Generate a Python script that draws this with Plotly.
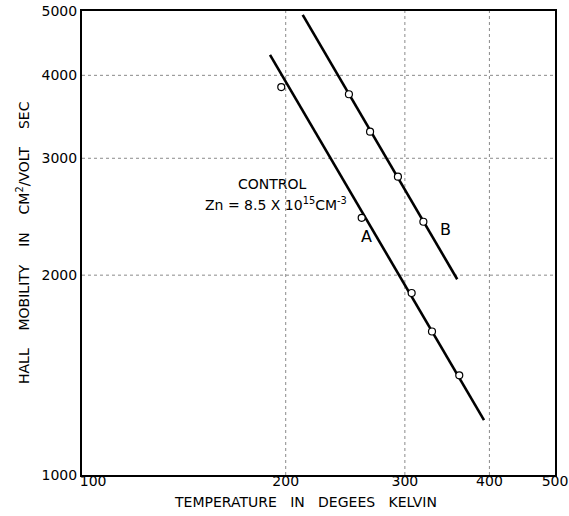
import plotly.graph_objects as go
import math

# Data
A_T = [197, 259, 307, 329, 361]
A_mu = [3840, 2440, 1880, 1645, 1413]
B_T = [248, 266.5, 293, 319.5]
B_mu = [3746, 3290, 2814, 2407]
lineA_T = [189.6, 392.7]
lineA_mu = [4293, 1210]
lineB_T = [211.9, 358.5]
lineB_mu = [4932, 1972]

x_ticks = [100, 200, 300, 400, 500]
y_ticks = [1000, 2000, 3000, 4000, 5000]
x_grid = [200, 300, 400]
y_grid = [2000, 3000, 4000]

FONT = "DejaVu Sans"
NB = "\u00a0"
fig = go.Figure()

for t, m in [(lineA_T, lineA_mu), (lineB_T, lineB_mu)]:
    fig.add_trace(go.Scatter(x=t, y=m, mode="lines",
                             line=dict(color="black", width=2.6),
                             showlegend=False, hoverinfo="skip"))
for t, m in [(A_T, A_mu), (B_T, B_mu)]:
    fig.add_trace(go.Scatter(x=t, y=m, mode="markers",
                             marker=dict(symbol="circle", size=7, color="white",
                                         line=dict(color="black", width=1.2)),
                             showlegend=False))

for g in x_grid:
    fig.add_shape(type="line", xref="x", yref="paper", x0=g, x1=g, y0=0, y1=1,
                  line=dict(color="#8a8a8a", width=1, dash="dot"), layer="below")
for g in y_grid:
    fig.add_shape(type="line", xref="paper", yref="y", x0=0, x1=1, y0=g, y1=g,
                  line=dict(color="#8a8a8a", width=1, dash="dot"), layer="below")

fig.add_annotation(x=math.log10(191), y=math.log10(2744), xref="x", yref="y",
                   text="CONTROL", showarrow=False,
                   font=dict(family=FONT, size=14, color="black"))
fig.add_annotation(x=math.log10(193.5), y=math.log10(2560), xref="x", yref="y",
                   text="Zn = 8.5 X 10<sup>15</sup>CM<sup>-3</sup>", showarrow=False,
                   font=dict(family=FONT, size=14, color="black"))
fig.add_annotation(x=math.log10(263), y=math.log10(2286), xref="x", yref="y",
                   text="A", showarrow=False,
                   font=dict(family=FONT, size=16, color="black"))
fig.add_annotation(x=math.log10(344), y=math.log10(2340), xref="x", yref="y",
                   text="B", showarrow=False,
                   font=dict(family=FONT, size=16, color="black"))

gap_x = " " + NB * 2
gap_y = " " + NB * 3
fig.add_annotation(x=(305 - 82) / 473, y=-(502 - 475) / 464, xref="paper", yref="paper",
                   text=gap_x.join(["TEMPERATURE", "IN", "DEGEES", "KELVIN"]), showarrow=False,
                   xanchor="center", yanchor="middle",
                   font=dict(family=FONT, size=14, color="black"))
fig.add_annotation(x=(23 - 82) / 473, y=0.5, xref="paper", yref="paper",
                   text=gap_y.join(["HALL", "MOBILITY", "IN", "CM<sup>2</sup>/VOLT", "SEC"]),
                   showarrow=False, textangle=-90, xanchor="center", yanchor="middle",
                   font=dict(family=FONT, size=14, color="black"))

x_ticktext = [str(v) for v in x_ticks]
x_ticktext[0] = NB * 5 + x_ticktext[0]

fig.update_layout(
    width=569, height=516,
    margin=dict(l=82, r=14, t=11, b=41, autoexpand=False),
    paper_bgcolor="white", plot_bgcolor="white",
    font=dict(family=FONT, size=14, color="black"),
    xaxis=dict(type="log", range=[2, math.log10(500)], tickvals=x_ticks,
               ticktext=x_ticktext, showgrid=False, zeroline=False,
               showline=True, linecolor="black", linewidth=2, mirror=True,
               ticks="", automargin=False, ticklabelstandoff=-8,
               ticklabeloverflow="allow",
               tickfont=dict(family=FONT, size=14)),
    yaxis=dict(type="log", range=[3, math.log10(5000)], tickvals=y_ticks,
               ticktext=[str(v) for v in y_ticks], showgrid=False, zeroline=False,
               showline=True, linecolor="black", linewidth=2, mirror=True,
               ticks="", automargin=False, ticklabeloverflow="allow",
               tickfont=dict(family=FONT, size=14)),
)

fig.write_html("out.html", config={"displayModeBar": False},
               post_script="document.body.style.margin='0';document.body.style.overflow='hidden';")
